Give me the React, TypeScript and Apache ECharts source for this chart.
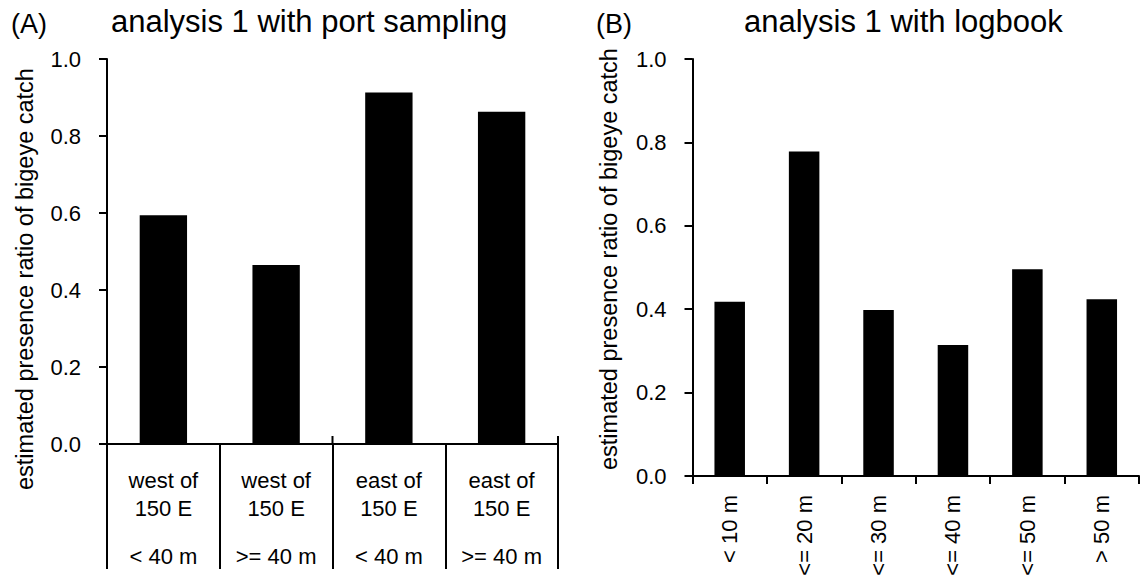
import React, { useEffect, useRef } from "react";
import * as echarts from "echarts";

const FONT = "'Liberation Sans', Arial, Helvetica, sans-serif";

// Panel A data
const catA1 = ["west of", "west of", "east of", "east of"];
const catA2 = ["150 E", "150 E", "150 E", "150 E"];
const catA3 = ["< 40 m", ">= 40 m", "< 40 m", ">= 40 m"];
const valuesA = [0.594, 0.465, 0.913, 0.863];

// Panel B data
const catB = ["< 10 m", "<= 20 m", "<= 30 m", "<= 40 m", "<= 50 m", "> 50 m"];
const valuesB = [0.418, 0.778, 0.398, 0.314, 0.496, 0.424];

const titleA = "analysis 1 with port sampling";
const titleB = "analysis 1 with logbook";
const yName = "estimated presence ratio of bigeye catch";

export default function App() {
  const ref = useRef<HTMLDivElement>(null);
  useEffect(() => {
    document.body.style.margin = "0";
    if (!ref.current) return;
    const chart = echarts.init(ref.current, null, { renderer: "svg" });
    const black = "#000";
    const lineStyle = { color: black, width: 2 };
    const catsA = catA1.map((a, i) => `${a}\n${catA2[i]}\n${catA3[i]}`);
    // last category index of each region group (west / east)
    const groupEnds = catA1
      .map((a, i) => (i === catA1.length - 1 || catA1[i + 1] !== a ? i : -1))
      .filter((i) => i >= 0)
      .map((i) => [i, 0]);
    const yAxisBase = {
      type: "value",
      min: 0,
      max: 1,
      interval: 0.2,
      axisLine: { show: true, lineStyle },
      axisTick: { show: true, length: 8, lineStyle },
      splitLine: { show: false },
      axisLabel: {
        formatter: (v: number) => v.toFixed(1),
        fontSize: 22,
        color: black,
        fontFamily: FONT,
        margin: 26,
      },
    };
    const titleStyle = (size: number) => ({ fontSize: size, fontWeight: "normal", color: black, fontFamily: FONT });
    chart.setOption({
      animation: false,
      backgroundColor: "#fff",
      title: [
        { text: "(A)", left: 11, top: 10, padding: 0, textStyle: titleStyle(27) },
        { text: titleA, left: 111, top: 6, padding: 0, textStyle: titleStyle(31) },
        { text: "(B)", left: 596, top: 10, padding: 0, textStyle: titleStyle(27) },
        { text: titleB, left: 744, top: 6, padding: 0, textStyle: titleStyle(31) },
      ],
      graphic: [
        {
          type: "text",
          x: 25,
          y: 490,
          rotation: Math.PI / 2,
          style: { text: yName, fontSize: 23.5, fontFamily: FONT, fill: black, align: "left", verticalAlign: "middle", textAlign: "left", textVerticalAlign: "middle" },
        },
        {
          type: "text",
          x: 609,
          y: 470,
          rotation: Math.PI / 2,
          style: { text: yName, fontSize: 23.5, fontFamily: FONT, fill: black, align: "left", verticalAlign: "middle", textAlign: "left", textVerticalAlign: "middle" },
        },
      ],
      grid: [
        { left: 107, top: 59, width: 451, height: 385, containLabel: false, outerBoundsMode: "none" },
        { left: 692.5, top: 59, width: 446.5, height: 417, containLabel: false, outerBoundsMode: "none" },
      ],
      xAxis: [
        {
          type: "category",
          gridIndex: 0,
          position: "bottom",
          data: catsA,
          axisLine: { show: true, lineStyle },
          axisTick: { show: true, length: 125, lineStyle },
          axisLabel: {
            interval: 0,
            margin: 22,
            color: black,
            fontSize: 22,
            fontFamily: FONT,
            lineHeight: 28,
            formatter: (v: string) => {
              const p = v.split("\n");
              return `${p[0]}\n${p[1]}\n{b|${p[2]}}`;
            },
            rich: { b: { fontSize: 22, fontFamily: FONT, color: black, lineHeight: 68 } },
          },
        },
        {
          type: "category",
          gridIndex: 1,
          position: "bottom",
          data: catB,
          axisLine: { show: true, lineStyle },
          axisTick: { show: true, length: 8, lineStyle },
          axisLabel: { interval: 0, rotate: 90, margin: 19, color: black, fontSize: 22, fontFamily: FONT },
        },
      ],
      yAxis: [
        { ...yAxisBase, gridIndex: 0 },
        { ...yAxisBase, gridIndex: 1 },
      ],
      series: [
        { type: "bar", xAxisIndex: 0, yAxisIndex: 0, data: valuesA, barWidth: "42%", itemStyle: { color: black } },
        {
          type: "custom",
          xAxisIndex: 0,
          yAxisIndex: 0,
          data: groupEnds,
          silent: true,
          clip: false,
          renderItem: (_params: any, api: any) => {
            const p = api.coord([api.value(0), 0]);
            const w = api.size([1, 0])[0];
            const x = p[0] + w / 2;
            return {
              type: "line",
              shape: { x1: x, y1: p[1], x2: x, y2: p[1] - 8 },
              style: { stroke: black, lineWidth: 2 },
            };
          },
        },
        { type: "bar", xAxisIndex: 1, yAxisIndex: 1, data: valuesB, barWidth: "41%", itemStyle: { color: black } },
      ],
    });
    return () => chart.dispose();
  }, []);
  return <div ref={ref} style={{ width: 1145, height: 581 }} />;
}
